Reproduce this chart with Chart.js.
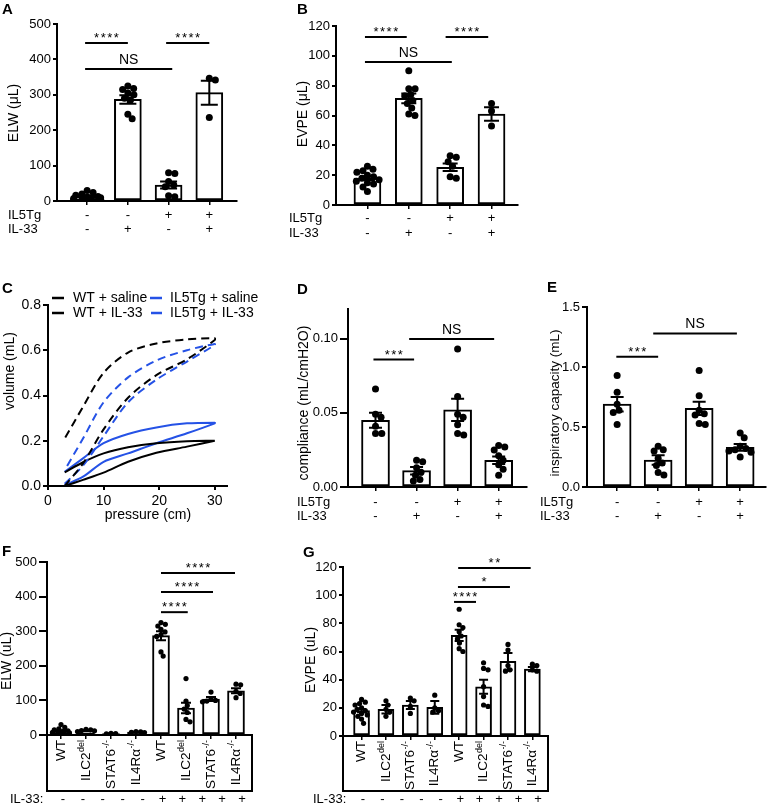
<!DOCTYPE html>
<html>
<head>
<meta charset="utf-8">
<title>Figure</title>
<script src="https://cdn.jsdelivr.net/npm/chart.js@4.4.1/dist/chart.umd.min.js"></script>
<style>
  html, body { margin: 0; padding: 0; background: #fff; }
  #fig { position: relative; width: 770px; height: 805px; overflow: hidden; background: #fff; }
  #fig canvas { position: absolute; left: 0; top: 0; }
  .pl { position: absolute; font: bold 15px/15px "Liberation Sans", Arial, sans-serif; color: #000; }
</style>
</head>
<body>
<div id="fig">
  <canvas id="cA" width="770" height="805"></canvas>
  <canvas id="cB" width="770" height="805"></canvas>
  <canvas id="cC" width="770" height="805"></canvas>
  <canvas id="cD" width="770" height="805"></canvas>
  <canvas id="cE" width="770" height="805"></canvas>
  <canvas id="cF" width="770" height="805"></canvas>
  <canvas id="cG" width="770" height="805"></canvas>
  <div class="pl" style="left:2px;top:1px">A</div>
  <div class="pl" style="left:297px;top:1px">B</div>
  <div class="pl" style="left:2px;top:280px">C</div>
  <div class="pl" style="left:297px;top:281px">D</div>
  <div class="pl" style="left:547px;top:279px">E</div>
  <div class="pl" style="left:2px;top:543px">F</div>
  <div class="pl" style="left:303px;top:544px">G</div>
</div>
<script>
// ---------------- DATA ----------------
// Panels A, B, D, E: group conditions
const il5tg = ['-', '-', '+', '+'];
const il33 = ['-', '+', '-', '+'];

// A: ELW (μL)
const elwTicks = [0, 100, 200, 300, 400, 500];
const elwMean = [12, 287, 45, 306];
const elwSem = [3, 12, 10, 34];
const elwPts = [
  [30, 24, 20, 16, 13, 11, 9, 7, 5, 3, 2, 0],
  [325, 318, 315, 305, 300, 290, 285, 245, 232],
  [80, 78, 55, 45, 40, 15, 12],
  [347, 342, 236]
];
const sigA = [[-0.05, 1.0, 446, '****'], [1.94, 3.0, 446, '****'], [-0.05, 2.09, 373, 'NS']];

// B: EVPE (μL)
const evpeTicks = [0, 20, 40, 60, 80, 100, 120];
const evpeMean = [18, 71.5, 25.3, 61];
const evpeSem = [1.2, 3.3, 2.5, 4.5];
const evpePts = [
  [26, 24, 23, 22, 20, 19, 18, 17, 16, 15, 14, 12, 9],
  [90, 78, 78, 74, 73, 70, 68, 65, 61, 60],
  [33, 32, 29, 26, 19, 18],
  [68, 63, 53]
];
const sigB = [[-0.06, 0.95, 112.6, '****'], [1.89, 2.92, 112.6, '****'], [-0.06, 2.04, 95.9, 'NS']];

// C: pressure-volume loops
const cSeries = ['WT + saline', 'IL5Tg + saline', 'WT + IL-33', 'IL5Tg + IL-33'];
const presTicks = [0, 10, 20, 30];
const volTicks = [0, 0.2, 0.4, 0.6, 0.8];
const pressure = [3, 6.3, 10, 14.4, 19.5, 25, 30];
const wtSalineInfl = [0.0, 0.10, 0.25, 0.39, 0.49, 0.56, 0.645];
const wtSalineDefl = [0.21, 0.35, 0.50, 0.59, 0.63, 0.648, 0.653];
const tgSalineInfl = [0.01, 0.09, 0.22, 0.37, 0.47, 0.55, 0.623];
const tgSalineDefl = [0.07, 0.21, 0.37, 0.48, 0.555, 0.60, 0.628];
const wtIl33Infl = [0.0, 0.027, 0.059, 0.107, 0.147, 0.174, 0.2];
const wtIl33Defl = [0.06, 0.105, 0.144, 0.171, 0.189, 0.198, 0.2];
const tgIl33Infl = [0.004, 0.041, 0.107, 0.144, 0.189, 0.233, 0.277];
const tgIl33Defl = [0.063, 0.122, 0.189, 0.23, 0.259, 0.277, 0.28];

// D: compliance (mL/cmH2O)
const compTicks = [0, 0.05, 0.10];
const compMean = [0.045, 0.011, 0.052, 0.018];
const compSem = [0.005, 0.0025, 0.0075, 0.0025];
const compPts = [
  [0.066, 0.049, 0.047, 0.041, 0.036, 0.036],
  [0.018, 0.017, 0.013, 0.010, 0.008, 0.005, 0.004],
  [0.093, 0.061, 0.049, 0.047, 0.042, 0.036, 0.035],
  [0.028, 0.027, 0.025, 0.021, 0.018, 0.015, 0.012, 0.008]
];
const sigD = [[-0.05, 0.94, 0.0859, '***'], [0.82, 2.89, 0.0998, 'NS']];

// E: inspiratory capacity (mL)
const icTicks = [0, 0.5, 1.0, 1.5];
const icMean = [0.69, 0.225, 0.655, 0.33];
const icSem = [0.06, 0.04, 0.055, 0.028];
const icPts = [
  [0.93, 0.79, 0.69, 0.64, 0.62, 0.52],
  [0.34, 0.31, 0.30, 0.24, 0.20, 0.18, 0.12, 0.10],
  [0.97, 0.76, 0.64, 0.61, 0.60, 0.53, 0.52],
  [0.45, 0.41, 0.34, 0.32, 0.31, 0.30, 0.29, 0.25]
];
const sigE = [[-0.02, 1.0, 1.086, '***'], [0.88, 2.92, 1.28, 'NS']];

// F, G: strains (name + superscript)
const strainBase = ['WT', 'ILC2', 'STAT6', 'IL4Rα', 'WT', 'ILC2', 'STAT6', 'IL4Rα'];
const strainSup = ['', 'del', '-/-', '-/-', '', 'del', '-/-', '-/-'];
const il33Row = ['-', '-', '-', '-', '-', '+', '+', '+', '+', '+'];

// F: ELW (uL)
const elw2Ticks = [0, 100, 200, 300, 400, 500];
const elw2Mean = [11, 12, 4, 8.5, 287, 78, 104, 128];
const elw2Sem = [2.5, 1.5, 0.7, 1, 13, 15, 6, 7];
const elw2Pts = [
  [30, 22, 18, 15, 12, 10, 8, 6, 5, 3, 2, 0],
  [16, 15, 13, 12, 10],
  [5, 4, 3],
  [10, 9, 8, 7],
  [325, 320, 315, 305, 298, 290, 285, 240, 228],
  [163, 98, 85, 75, 65, 45, 38],
  [124, 104, 100, 98, 96],
  [147, 145, 126, 120, 108]
];
const sigF = [[4.0, 6.96, 468, '****'], [4.0, 6.08, 413, '****'], [4.0, 5.07, 355, '****']];

// G: EVPE (uL)
const evpe2Ticks = [0, 20, 40, 60, 80, 100, 120];
const evpe2Mean = [18, 19, 22, 20.3, 71.5, 35, 53, 47.5];
const evpe2Sem = [1.2, 3, 2.8, 4.5, 4, 5, 6, 1.5];
const evpe2Pts = [
  [26, 24, 23, 22, 20, 19, 18, 17, 16, 15, 14, 12, 9],
  [25, 22, 19, 17, 14],
  [27, 25, 21, 16],
  [29, 20, 18, 17],
  [90, 79, 77, 74, 71, 69, 66, 62, 60],
  [52, 48, 47, 35, 28, 22, 21],
  [65, 61, 50, 47, 46],
  [51, 50, 47, 46]
];
const sigG = [[3.96, 6.93, 119.3, '**'], [3.95, 6.08, 105.8, '*'], [3.79, 4.69, 95.2, '****']];

// ---------------- RENDERING ----------------
const FONT = '"Liberation Sans", Arial, Helvetica, sans-serif';
const BLUE = '#2552e6';
Chart.defaults.font.family = FONT;
Chart.defaults.font.size = 13;
Chart.defaults.color = '#000';

const EXTRA = {};

function txt(ctx, t) {
  ctx.save();
  ctx.font = (t.bold ? 'bold ' : '') + (t.size || 14) + 'px ' + FONT;
  ctx.fillStyle = '#000';
  ctx.textAlign = t.align || 'center';
  ctx.textBaseline = t.base || 'middle';
  if (t.ls) ctx.letterSpacing = t.ls;
  ctx.translate(t.x, t.y);
  if (t.rot) ctx.rotate(t.rot);
  ctx.fillText(t.t, 0, 0);
  ctx.restore();
}

const extrasPlugin = {
  id: 'extras',
  afterDatasetsDraw(chart) {
    const o = EXTRA[chart.canvas.id];
    if (!o || !o.err) return;
    const ctx = chart.ctx, xs = chart.scales.x, ys = chart.scales.y;
    ctx.save();
    ctx.strokeStyle = '#000';
    ctx.lineWidth = 2;
    o.err.mean.forEach((m, i) => {
      const x = xs.getPixelForValue(i), h = o.err.cap / 2;
      const yt = ys.getPixelForValue(m + o.err.sem[i]);
      const yb = ys.getPixelForValue(Math.max(0, m - o.err.sem[i]));
      ctx.beginPath();
      ctx.moveTo(x, yt); ctx.lineTo(x, yb);
      ctx.moveTo(x - h, yt); ctx.lineTo(x + h, yt);
      ctx.moveTo(x - h, yb); ctx.lineTo(x + h, yb);
      ctx.stroke();
    });
    ctx.restore();
  },
  afterDraw(chart) {
    const o = EXTRA[chart.canvas.id];
    if (!o) return;
    const ctx = chart.ctx, xs = chart.scales.x, ys = chart.scales.y, ca = chart.chartArea;
    ctx.save();
    ctx.strokeStyle = '#000';
    ctx.lineWidth = 2;
    if (o.box) ctx.strokeRect(ca.left, ca.bottom, ca.right - ca.left, o.box - ca.bottom);
    if (o.rotLabels) {
      const R = o.rotLabels;
      R.base.forEach((b, i) => {
        const x = xs.getPixelForValue(i), y = ca.bottom + R.gap;
        ctx.save();
        ctx.translate(x, y);
        ctx.rotate(-Math.PI / 2);
        ctx.fillStyle = '#000';
        ctx.textBaseline = 'middle';
        ctx.textAlign = 'left';
        ctx.font = R.size + 'px ' + FONT;
        const wb = ctx.measureText(b).width;
        ctx.font = R.supSize + 'px ' + FONT;
        const ws = R.sup[i] ? ctx.measureText(R.sup[i]).width + 0.5 : 0;
        ctx.font = R.size + 'px ' + FONT;
        ctx.fillText(b, -(wb + ws), 0);
        if (R.sup[i]) {
          ctx.font = R.supSize + 'px ' + FONT;
          ctx.fillText(R.sup[i], -ws + 0.5, -4.5);
        }
        ctx.restore();
      });
    }
    (o.sig || []).forEach(s => {
      const x1 = xs.getPixelForValue(s[0]), x2 = xs.getPixelForValue(s[1]), y = ys.getPixelForValue(s[2]);
      ctx.strokeStyle = '#000';
      ctx.lineWidth = 2;
      ctx.beginPath(); ctx.moveTo(x1, y); ctx.lineTo(x2, y); ctx.stroke();
      const ns = s[3] === 'NS';
      txt(ctx, { t: s[3], x: (x1 + x2) / 2 + (ns ? 0 : 0.75), y: y - (ns ? 5 : 1), size: ns ? 14 : 13,
                 base: 'alphabetic', ls: ns ? null : '1.5px' });
    });
    (o.legend || []).forEach(l => {
      ctx.strokeStyle = l.color;
      ctx.lineWidth = 2.5;
      ctx.beginPath(); ctx.moveTo(l.x1, l.y); ctx.lineTo(l.x2, l.y); ctx.stroke();
      txt(ctx, { t: l.t, x: l.tx, y: l.y, size: 14, align: 'left' });
    });
    (o.texts || []).forEach(t => txt(ctx, t));
    ctx.restore();
  }
};
Chart.register(extrasPlugin);

// simple beeswarm: horizontal offsets (in index units) so dots do not pile up; spread limited to the bar
function swarm(vals, pxX, pxY, r, maxPx) {
  const order = vals.map((v, i) => i).sort((a, b) => vals[b] - vals[a]);
  const placed = [];
  const md = 1.8 * r;
  order.forEach(i => {
    const y = vals[i] * pxY;
    const cands = [0];
    placed.forEach(p => {
      const dy = Math.abs(p.y - y);
      if (dy < md) { const dx = Math.sqrt(md * md - dy * dy); cands.push(p.x + dx, p.x - dx); }
    });
    cands.sort((a, b) => Math.abs(a) - Math.abs(b));
    let ok = cands.find(c => placed.every(p => (p.x - c) ** 2 + (p.y - y) ** 2 >= md * md - 0.01));
    if (ok === undefined) ok = 0;
    ok = Math.max(-maxPx, Math.min(maxPx, ok));
    placed.push({ x: ok, y, v: vals[i] });
  });
  return placed.map(p => ({ dx: p.x / pxX, v: p.v }));
}

function axisCommon(tl, lw) {
  return {
    grid: { display: true, drawOnChartArea: false, drawTicks: true, tickLength: tl, color: '#000', lineWidth: lw, offset: false },
    border: { display: true, color: '#000', width: 2 }
  };
}

const YW = 40;

function barPanel(id, g) {
  const pxX = (g.R - g.L) / (g.xmax - g.xmin);
  const pxY = (g.B - g.T) / (g.ymax - g.ymin);
  const dots = [];
  g.pts.forEach((vals, i) => swarm(vals, pxX, pxY, g.r, 0.5 * g.barPx).forEach(p => dots.push({ x: i + p.dx, y: p.v })));
  EXTRA[id] = { err: { mean: g.mean, sem: g.sem, cap: g.cap }, sig: g.sig, texts: g.texts, box: g.box, rotLabels: g.rotLabels };
  new Chart(document.getElementById(id), {
    type: 'bar',
    data: {
      datasets: [
        { type: 'scatter', data: dots, pointRadius: g.r, pointBackgroundColor: '#000', pointBorderWidth: 0, order: 0 },
        { type: 'bar', data: g.mean.map((m, i) => ({ x: i, y: m })), backgroundColor: '#fff', borderColor: '#000',
          borderWidth: 2, borderSkipped: false, barThickness: g.barPx, order: 1 }
      ]
    },
    options: {
      responsive: false, animation: false, events: [],
      layout: { padding: { left: g.L - YW, right: 770 - g.R, top: g.T, bottom: 805 - g.B - g.xH } },
      plugins: { legend: { display: false }, tooltip: { enabled: false } },
      scales: {
        x: Object.assign(axisCommon(g.xTL, 1.5), {
          type: 'linear', min: g.xmin, max: g.xmax, offset: false,
          afterFit(s) { s.height = g.xH; },
          afterBuildTicks(s) { s.ticks = g.mean.map((m, i) => ({ value: i })); },
          ticks: { autoSkip: false, maxRotation: 0, minRotation: 0, padding: g.xPad, color: '#000',
                   font: { size: g.xFont, lineHeight: g.xLH + 'px' }, callback: (v, i) => g.xLabels(i) }
        }),
        y: Object.assign(axisCommon(g.yTL, 2), {
          type: 'linear', min: g.ymin, max: g.ymax,
          afterFit(s) { s.width = YW; },
          afterBuildTicks(s) { s.ticks = g.yTicks.map(v => ({ value: v })); },
          ticks: { padding: g.yPad, color: '#000', font: { size: 13 }, callback: g.yFmt }
        })
      }
    }
  });
}

const ROT = -Math.PI / 2;
const int = v => String(Math.round(v));

// A
barPanel('cA', {
  L: 57, R: 237, T: 24, B: 201, xmin: -0.74, xmax: 3.68, ymin: 0, ymax: 500,
  yTicks: elwTicks, yFmt: int, yTL: 4, yPad: 2,
  mean: elwMean, sem: elwSem, pts: elwPts, barPx: 27, r: 3.5, cap: 17,
  xLabels: i => [il5tg[i], il33[i]], xFont: 13, xLH: 14, xPad: 3, xTL: 4, xH: 40,
  sig: sigA,
  texts: [
    { t: 'ELW (μL)', x: 14, y: 113, size: 14, rot: ROT },
    { t: 'IL5Tg', x: 8, y: 215, size: 13, align: 'left' },
    { t: 'IL-33', x: 8, y: 229, size: 13, align: 'left' }
  ]
});

// B
barPanel('cB', {
  L: 336, R: 518, T: 26, B: 205, xmin: -0.76, xmax: 3.64, ymin: 0, ymax: 120,
  yTicks: evpeTicks, yFmt: int, yTL: 4, yPad: 2,
  mean: evpeMean, sem: evpeSem, pts: evpePts, barPx: 27, r: 3.5, cap: 15,
  xLabels: i => [il5tg[i], il33[i]], xFont: 13, xLH: 15, xPad: 2, xTL: 4, xH: 40,
  sig: sigB,
  texts: [
    { t: 'EVPE (μL)', x: 303, y: 114, size: 14, rot: ROT },
    { t: 'IL5Tg', x: 289, y: 218, size: 13, align: 'left' },
    { t: 'IL-33', x: 289, y: 233, size: 13, align: 'left' }
  ]
});

// D
barPanel('cD', {
  L: 348, R: 527, T: 309, B: 487, xmin: -0.67, xmax: 3.69, ymin: 0, ymax: 0.12,
  yTicks: compTicks, yFmt: v => v.toFixed(2), yTL: 8, yPad: 2,
  mean: compMean, sem: compSem, pts: compPts, barPx: 28, r: 3.5, cap: 13,
  xLabels: i => [il5tg[i], il33[i]], xFont: 13, xLH: 14, xPad: 4, xTL: 4, xH: 40,
  sig: sigD,
  texts: [
    { t: 'compliance (mL/cmH2O)', x: 304, y: 403, size: 14, rot: ROT },
    { t: 'IL5Tg', x: 297, y: 502, size: 13, align: 'left' },
    { t: 'IL-33', x: 297, y: 516, size: 13, align: 'left' }
  ]
});

// E
barPanel('cE', {
  L: 587, R: 768, T: 307, B: 487, xmin: -0.735, xmax: 3.63, ymin: 0, ymax: 1.5,
  yTicks: icTicks, yFmt: v => v.toFixed(1), yTL: 5, yPad: 2,
  mean: icMean, sem: icSem, pts: icPts, barPx: 28, r: 3.5, cap: 13,
  xLabels: i => [il5tg[i], il33[i]], xFont: 13, xLH: 14, xPad: 4, xTL: 4, xH: 40,
  sig: sigE,
  texts: [
    { t: 'inspiratory capacity (mL)', x: 555, y: 403, size: 13.5, rot: ROT },
    { t: 'IL5Tg', x: 540, y: 502, size: 13, align: 'left' },
    { t: 'IL-33', x: 540, y: 516, size: 13, align: 'left' }
  ]
});

function signTexts(x0, x1, y) {
  const step = (x1 - x0) / (il33Row.length - 1);
  return il33Row.map((s, k) => ({ t: s, x: x0 + k * step, y: y, size: 13 }));
}

const rotLab = { base: strainBase, sup: strainSup, size: 13.5, supSize: 9, gap: 5 };

// F
barPanel('cF', {
  L: 47, R: 252, T: 562, B: 735, xmin: -0.56, xmax: 7.64, ymin: 0, ymax: 500,
  yTicks: elw2Ticks, yFmt: int, yTL: 8, yPad: 2,
  mean: elw2Mean, sem: elw2Sem, pts: elw2Pts, barPx: 17, r: 2.6, cap: 10,
  xLabels: i => '', xFont: 13, xLH: 14, xPad: 2, xTL: 4, xH: 60,
  sig: sigF, box: 791, rotLabels: rotLab,
  texts: [
    { t: 'ELW (uL)', x: 7, y: 661, size: 14, rot: ROT },
    { t: 'IL-33:', x: 10, y: 799, size: 13, align: 'left' }
  ].concat(signTexts(63, 242, 799))
});

// G
barPanel('cG', {
  L: 343, R: 548, T: 567, B: 736, xmin: -0.76, xmax: 7.64, ymin: 0, ymax: 120,
  yTicks: evpe2Ticks, yFmt: int, yTL: 4, yPad: 2,
  mean: evpe2Mean, sem: evpe2Sem, pts: evpe2Pts, barPx: 16, r: 2.6, cap: 9,
  xLabels: i => '', xFont: 13, xLH: 14, xPad: 2, xTL: 4, xH: 59,
  sig: sigG, box: 791, rotLabels: rotLab,
  texts: [
    { t: 'EVPE (uL)', x: 311, y: 660, size: 14, rot: ROT },
    { t: 'IL-33:', x: 313, y: 799, size: 13, align: 'left' }
  ].concat(signTexts(363, 538, 799))
});

// C
function loop(infl, defl) {
  const pts = pressure.map((p, i) => ({ x: p, y: infl[i] }));
  for (let i = pressure.length - 1; i >= 0; i--) pts.push({ x: pressure[i], y: defl[i] });
  return pts;
}
const cLoops = [loop(wtSalineInfl, wtSalineDefl), loop(tgSalineInfl, tgSalineDefl), loop(wtIl33Infl, wtIl33Defl), loop(tgIl33Infl, tgIl33Defl)];
const cColors = ['#000', BLUE, '#000', BLUE];
const cDash = [[8, 5], [8, 5], [], []];
(function () {
  const L = 48, R = 227, T = 305, B = 486, XH = 40;
  EXTRA['cC'] = {
    legend: [
      { t: cSeries[0], color: cColors[0], x1: 52, x2: 64, tx: 73, y: 298 },
      { t: cSeries[1], color: cColors[1], x1: 150, x2: 162, tx: 170, y: 298 },
      { t: cSeries[2], color: cColors[2], x1: 52, x2: 64, tx: 73, y: 313 },
      { t: cSeries[3], color: cColors[3], x1: 151, x2: 162, tx: 170, y: 313 }
    ],
    texts: [
      { t: 'volume (mL)', x: 10, y: 371, size: 14, rot: ROT },
      { t: 'pressure (cm)', x: 148, y: 515, size: 14 }
    ]
  };
  new Chart(document.getElementById('cC'), {
    type: 'scatter',
    data: {
      datasets: cLoops.map((d, k) => ({
        label: cSeries[k], data: d, showLine: true, pointRadius: 0, borderColor: cColors[k],
        borderWidth: 2, borderDash: cDash[k], tension: 0.3, fill: false
      }))
    },
    options: {
      responsive: false, animation: false, events: [],
      layout: { padding: { left: L - YW, right: 770 - R, top: T, bottom: 805 - B - XH } },
      plugins: { legend: { display: false }, tooltip: { enabled: false } },
      scales: {
        x: Object.assign(axisCommon(4, 2), {
          type: 'linear', min: 0, max: 32.2,
          afterFit(s) { s.height = XH; },
          afterBuildTicks(s) { s.ticks = presTicks.map(v => ({ value: v })); },
          ticks: { padding: 3, color: '#000', font: { size: 14 }, callback: v => String(v) }
        }),
        y: Object.assign(axisCommon(5, 2), {
          type: 'linear', min: 0, max: 0.8,
          afterFit(s) { s.width = YW; },
          afterBuildTicks(s) { s.ticks = volTicks.map(v => ({ value: v })); },
          ticks: { padding: 2, color: '#000', font: { size: 14 }, callback: v => v.toFixed(1) }
        })
      }
    }
  });
})();
</script>
</body>
</html>
